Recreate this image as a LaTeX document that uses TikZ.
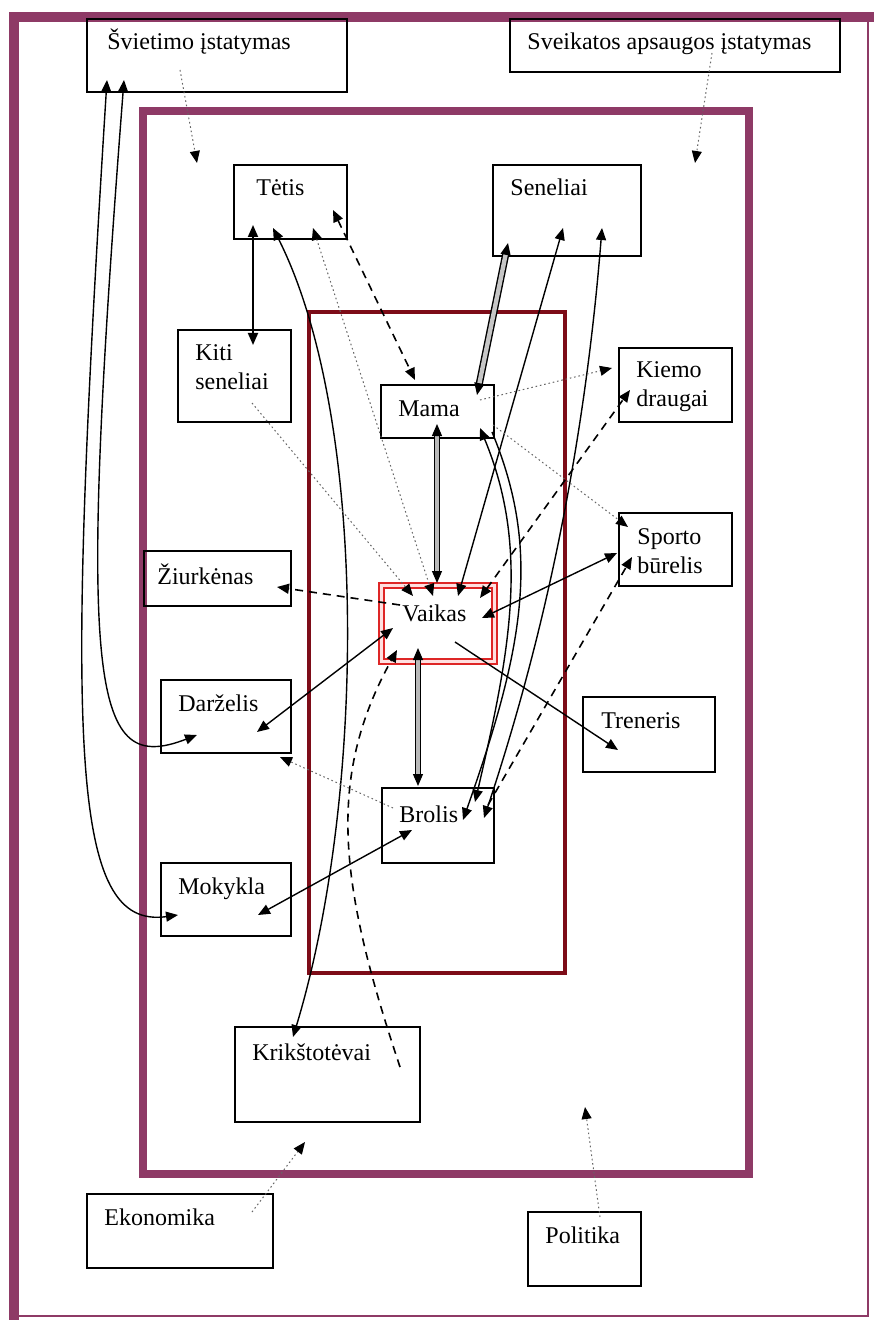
\documentclass[tikz,border=0pt]{standalone}
\usepackage{fontspec}
\setmainfont{Liberation Serif}
\usetikzlibrary{arrows.meta,fit}
\definecolor{plum}{RGB}{142,58,102}
\definecolor{tamsiraudona}{RGB}{125,12,24}
\definecolor{raudona}{RGB}{222,38,38}

\begin{document}
\begin{tikzpicture}[x=0.5pt,y=-0.5pt,>={Triangle[length=6pt,width=5pt]},font=\fontsize{12}{14}\selectfont]
\tikzstyle{box}=[draw,line width=0.9pt,inner sep=0pt,outer sep=0pt]
\tikzstyle{lbl}=[anchor=base west,inner sep=0pt,xshift=8.5pt,yshift=-15.5pt]
\tikzstyle{lbltwo}=[lbl,yshift=-14.5pt]
\tikzstyle{linija}=[line width=0.7pt]
\tikzstyle{bruksnys}=[line width=0.8pt,dash pattern=on 4pt off 3pt]
\tikzstyle{taskai}=[gray!80!black,line width=0.5pt,dash pattern=on 0.8pt off 1.4pt,-{Triangle[length=6pt,width=5pt,color=black]}]
\tikzstyle{dviguba}=[line width=0.6pt,double=gray!55,double distance=1.6pt]
\tikzstyle{bruksniuota}=[line width=0.7pt,double=gray!45,double distance=2.2pt]
% end of definitions
\useasboundingbox (0,0) rectangle (873,1320);
\fill[white] (0,0) rectangle (873,1320);
\draw[plum,line width=1.2pt] (14,1316) -- (868,1316) -- (868,17);
\draw[plum,line width=5pt] (876,17) -- (14,17) -- (14,1324); %makrosistema
\node[draw=plum,line width=4pt,inner sep=0pt,outer sep=0pt,fit={(143,111) (749,1174)}] (vidus) {}; %egzosistema
\draw[tamsiraudona,line width=2pt] (309,312) rectangle (565,973); %seima

\node[box,fit={(87,19) (347,92)},label={[lbl,xshift=1.5pt]north west:Švietimo įstatymas}] (svietimas) {};
\node[box,fit={(510,19) (840,72)},label={[lbl]north west:Sveikatos apsaugos įstatymas}] (sveikata) {};
\node[box,fit={(234,165) (347,239)},label={[lbl,xshift=2.5pt]north west:Tėtis}] (tetis) {};
\node[box,fit={(493,165) (641,256)},label={[lbl]north west:Seneliai}] (seneliai) {};
\node[box,fit={(178,330) (291,422)},label={[lbl]north west:Kiti},label={[lbltwo]north west:seneliai}] (kiti) {};
\node[box,fit={(381,385) (494,438)},label={[lbl]north west:Mama}] (mama) {};
\node[box,fit={(619,348) (732,422)},label={[lbl,yshift=0.5pt]north west:Kiemo},label={[lbltwo,yshift=0.5pt]north west:draugai}] (kiemas) {};
\node[box,fit={(619,513) (732,586)},label={[lbl,xshift=0.5pt]north west:Sporto},label={[lbltwo,xshift=0.5pt]north west:būrelis}] (sportas) {};
\node[box,fit={(144,551) (291,606)},label={[lbl,xshift=-2pt,yshift=-1pt]north west:Žiurkėnas}] (ziurkenas) {};
\node[box,fit={(161,680) (291,753)},label={[lbl]north west:Darželis}] (darzelis) {};
\node[box,fit={(583,697) (715,772)},label={[lbl,xshift=0.5pt]north west:Treneris}] (treneris) {};
\node[box,fit={(382,788) (494,863)},label={[lbl,yshift=-1.5pt]north west:Brolis}] (brolis) {};
\node[box,fit={(161,863) (291,936)},label={[lbl]north west:Mokykla}] (mokykla) {};
\node[box,fit={(235,1027) (420,1122)},label={[lbl,yshift=-1pt]north west:Krikštotėvai}] (krikstas) {};
\node[box,fit={(87,1194) (273,1268)},label={[lbl]north west:Ekonomika}] (ekonomika) {};
\node[box,fit={(528,1212) (641,1286)},label={[lbl]north west:Politika}] (politika) {};
\node[draw=raudona,line width=1pt,double=red!12,double distance=1.5pt,inner sep=0pt,outer sep=0pt,fit={(381.5,585) (494.5,661.5)},label={[lbl,xshift=1.75pt,yshift=-2.5pt]north west:Vaikas}] (vaikas) {};

% istatymai, ekonomika, politika
\draw[taskai] ([shift={(93,51)}]svietimas.north west) -- ([shift={(54,52)}]vidus.north west);
\draw[taskai] ([shift={(202,34)}]sveikata.north west) -- ([shift={(552,52)}]vidus.north west);
\draw[taskai] ([shift={(165,18)}]ekonomika.north west) -- ([shift={(162,-32)}]vidus.south west);
\draw[taskai] ([shift={(72,5)}]politika.north west) -- ([shift={(442,-67)}]vidus.south west);
\draw[linija,<->] ([shift={(20,61)}]svietimas.north west) .. controls +(-42,670) and +(-108,15) .. ([shift={(17,52)}]mokykla.north west);
\draw[linija,<->] ([shift={(37,61)}]svietimas.north west) .. controls +(-48,620) and +(-104,40) .. ([shift={(36,55)}]darzelis.north west);

% tetis
\draw[linija,line width=0.9pt,<->] ([shift={(19,60)}]tetis.north west) -- ([shift={(75,15)}]kiti.north west);
\draw[linija,<->] ([shift={(39,63)}]tetis.north west) .. controls +(97,192) and +(72,-237) .. ([shift={(58,10)}]krikstas.north west);
\draw[taskai,{Triangle[length=6pt,width=5pt,color=black]}-{Triangle[length=6pt,width=5pt,color=black]}] ([shift={(79,63)}]tetis.north west) -- ([shift={(51.5,11)}]vaikas.north west);
\draw[bruksnys,<->] ([shift={(99,45)}]tetis.north west) -- ([shift={(34,-5)}]mama.north west);
\draw[taskai] ([shift={(74,73)}]kiti.north west) -- ([shift={(31.5,11)}]vaikas.north west);

% seneliai
\draw[bruksniuota,<->] ([shift={(15,78)}]seneliai.north west) -- ([shift={(96,10)}]mama.north west);
\draw[linija,<->] ([shift={(70,63)}]seneliai.north west) -- ([shift={(76.5,11)}]vaikas.north west);
\draw[linija,<->] ([shift={(109,63)}]seneliai.north west) .. controls +(-20,250) and +(50,-150) .. ([shift={(102,30)}]brolis.north west);

% mama
\draw[dviguba,<->] ([shift={(56,39)}]mama.north west) -- ([shift={(55.5,-2)}]vaikas.north west);
\draw[taskai] ([shift={(99,15)}]mama.north west) -- ([shift={(-7,20)}]kiemas.north west);
\draw[taskai] ([shift={(112,40)}]mama.north west) -- ([shift={(9,14)}]sportas.north west);
\draw[linija,<->] ([shift={(99,43)}]mama.north west) .. controls +(50,120) and +(35,-150) .. ([shift={(93,14)}]brolis.north west);
\draw[linija,->] ([shift={(111,47)}]mama.north west) .. controls +(50,120) and +(60,-170) .. ([shift={(81,32)}]brolis.north west);

% vaikas
\draw[dviguba,<->] ([shift={(36.5,63)}]vaikas.north west) -- ([shift={(36,-2)}]brolis.north west);
\draw[bruksnys,<->] ([shift={(98.5,13)}]vaikas.north west) -- ([shift={(11,42)}]kiemas.north west);
\draw[linija,<->] ([shift={(100.5,33)}]vaikas.north west) -- ([shift={(-2,40)}]sportas.north west);
\draw[linija,<->] ([shift={(11.5,43)}]vaikas.north west) -- ([shift={(96,52)}]darzelis.north west);
\draw[linija,->] ([shift={(73.5,57)}]vaikas.north west) -- ([shift={(35,53)}]treneris.north west);
\draw[bruksnys,->] ([shift={(18.5,20)}]vaikas.north west) -- ([shift={(133,36)}]ziurkenas.north west);
\draw[bruksnys,->] ([shift={(165,40)}]krikstas.north west) .. controls +(-60,-180) and +(-72,130) .. ([shift={(15.5,65)}]vaikas.north west);

% brolis
\draw[bruksnys,->] ([shift={(106,17)}]brolis.north west) -- ([shift={(13,44)}]sportas.north west);
\draw[taskai] ([shift={(11,20)}]brolis.north west) -- ([shift={(119,77)}]darzelis.north west);
\draw[linija,<->] ([shift={(30,42)}]brolis.north west) -- ([shift={(97,52)}]mokykla.north west);
\end{tikzpicture}
\end{document}
